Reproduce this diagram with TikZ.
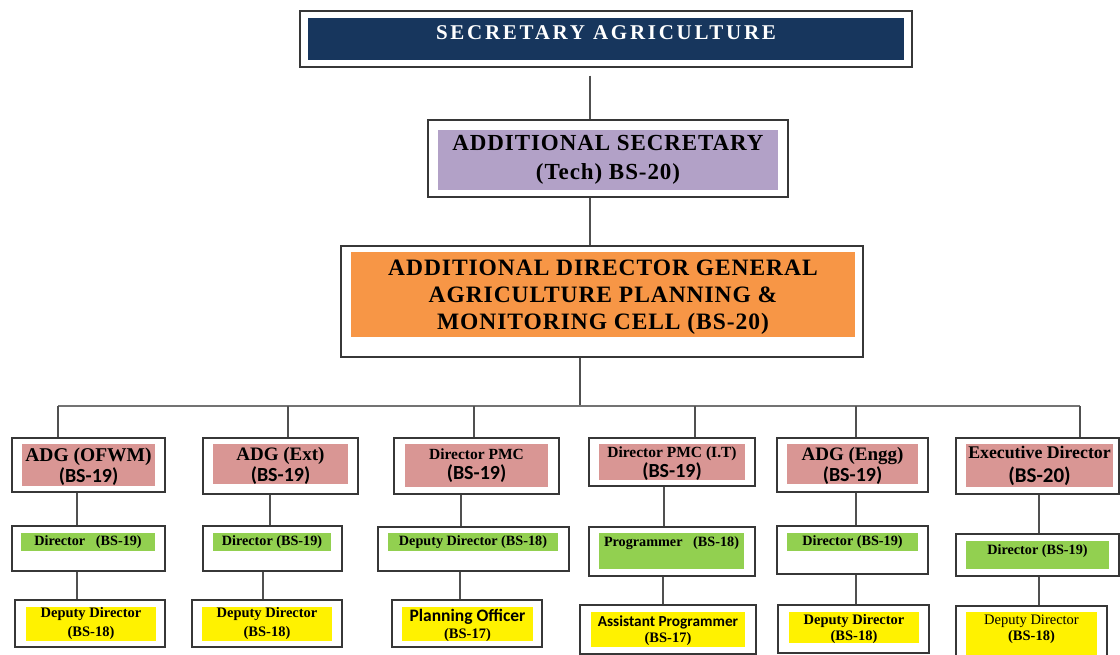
\documentclass[tikz,border=0pt]{standalone}
\usepackage{fontspec}
\setmainfont{Liberation Serif}
\newfontfamily\calfont{Carlito}

\definecolor{navy}{RGB}{23,54,93}
\definecolor{lavender}{RGB}{178,161,199}
\definecolor{deporange}{RGB}{247,150,70}
\definecolor{rose}{RGB}{217,150,148}
\definecolor{leaf}{RGB}{146,208,80}
\definecolor{boxline}{RGB}{55,55,55}
\definecolor{linkgray}{RGB}{80,80,80}

\newcommand*{\bsgrade}[2][20]{{\calfont\fontsize{#1}{21}\selectfont #2}}

\tikzset{
  frame/.style={draw=boxline, line width=1.4pt, fill=white, inner sep=0pt},
  tag/.style={inner sep=0pt, align=center, text=black},
  link/.style={draw=linkgray, line width=1.4pt},
}

\begin{document}
\begin{tikzpicture}[x=1pt, y=-1pt]
\fill[white] (0,0) rectangle (1120,655);
\useasboundingbox (0,0) rectangle (1120,655);

% Secretary
\node[frame, minimum width=612pt, minimum height=56pt] (sec) at (606,39) {};
\node[tag, fill=navy, text=white,
    minimum width=596pt, minimum height=42pt, text depth=13pt,
    font=\fontsize{21}{25}\selectfont\bfseries\addfontfeature{LetterSpace=13}
] (sec-in) at (606,39) {SECRETARY AGRICULTURE};

% Additional secretary
\node[frame, minimum width=360pt, minimum height=77pt] (addsec) at (608,158.5) {};
\node[tag, fill=lavender,
    minimum width=340pt, minimum height=60pt,
    font=\fontsize{23}{29}\selectfont\bfseries\addfontfeature{LetterSpace=4}
] (addsec-in) at (608,160) {ADDITIONAL SECRETARY\\(Tech) BS-20)};

% ADG planning cell
\node[frame, minimum width=522pt, minimum height=111pt] (adg) at (602,301.5) {};
\node[tag, fill=deporange,
    minimum width=504pt, minimum height=85pt, text depth=-2.9pt,
    font=\fontsize{23.5}{27}\selectfont\bfseries\addfontfeature{LetterSpace=4}
] (adg-in) at (603,294.5) {ADDITIONAL DIRECTOR GENERAL\\AGRICULTURE PLANNING \&\\MONITORING CELL (BS-20)};

% First row
\node[frame, minimum width=153pt, minimum height=54pt] (a1) at (88.5,465) {};
\node[tag, fill=rose, minimum width=133pt, minimum height=42pt, text depth=-3.3pt,
    font=\fontsize{19.5}{21}\selectfont\bfseries] (a1-in) at (88.5,465) {ADG (OFWM)\\\bsgrade{(BS-19)}};

\node[frame, minimum width=155pt, minimum height=56pt] (a2) at (280.5,466) {};
\node[tag, fill=rose, minimum width=135pt, minimum height=40pt, text depth=-3.3pt,
    font=\fontsize{19}{21}\selectfont\bfseries] (a2-in) at (280.5,464) {ADG (Ext)\\\bsgrade{(BS-19)}};

\node[frame, minimum width=165pt, minimum height=56pt] (a3) at (476.5,466) {};
\node[tag, fill=rose, minimum width=143pt, minimum height=43pt,
    font=\fontsize{15.5}{20}\selectfont\bfseries] (a3-in) at (476.5,465.5) {Director PMC\\\bsgrade{(BS-19)}};

\node[frame, minimum width=166pt, minimum height=48pt] (a4) at (672,462) {};
\node[tag, fill=rose, minimum width=146pt, minimum height=36pt, text depth=-1.3pt,
    font=\fontsize{15.5}{20.5}\selectfont\bfseries] (a4-in) at (672,462) {Director PMC (I.T)\\\bsgrade{(BS-19)}};

\node[frame, minimum width=151pt, minimum height=54pt] (a5) at (852.5,465) {};
\node[tag, fill=rose, minimum width=131pt, minimum height=40pt, text depth=-3.3pt,
    font=\fontsize{19}{21}\selectfont\bfseries] (a5-in) at (852.5,464) {ADG (Engg)\\\bsgrade{(BS-19)}};

\node[frame, minimum width=163pt, minimum height=56pt] (a6) at (1037.5,466) {};
\node[tag, fill=rose, minimum width=147pt, minimum height=43pt,
    font=\fontsize{17.8}{24}\selectfont\bfseries] (a6-in) at (1039.5,465.5) {Executive Director\\\bsgrade[21]{(BS-20)}};

% Second row
\node[frame, minimum width=153pt, minimum height=45pt] (b1) at (88.5,548.5) {};
\node[tag, fill=leaf, minimum width=134pt, minimum height=18pt,
    font=\fontsize{14.2}{17}\selectfont\bfseries] (b1-in) at (88,542) {Director\ \ \ (BS-19)};

\node[frame, minimum width=139pt, minimum height=45pt] (b2) at (272.5,548.5) {};
\node[tag, fill=leaf, minimum width=118pt, minimum height=18pt,
    font=\fontsize{14.2}{17}\selectfont\bfseries] (b2-in) at (272,542) {Director (BS-19)};

\node[frame, minimum width=191pt, minimum height=44pt] (b3) at (473.5,549) {};
\node[tag, fill=leaf, minimum width=170pt, minimum height=18pt,
    font=\fontsize{14.2}{17}\selectfont\bfseries] (b3-in) at (473,542) {Deputy Director (BS-18)};

\node[frame, minimum width=166pt, minimum height=49pt] (b4) at (672,551.5) {};
\node[tag, fill=leaf, minimum width=145pt, minimum height=36pt, text depth=18pt,
    font=\fontsize{14.2}{17}\selectfont\bfseries] (b4-in) at (671.5,551) {Programmer\ \ \ (BS-18)};

\node[frame, minimum width=151pt, minimum height=48pt] (b5) at (852.5,550) {};
\node[tag, fill=leaf, minimum width=131pt, minimum height=18pt,
    font=\fontsize{14.2}{17}\selectfont\bfseries] (b5-in) at (852.5,542) {Director (BS-19)};

\node[frame, minimum width=163pt, minimum height=42pt] (b6) at (1037.5,555) {};
\node[tag, fill=leaf, minimum width=143pt, minimum height=28pt, text depth=10.5pt,
    font=\fontsize{14.2}{17}\selectfont\bfseries] (b6-in) at (1037.5,555) {Director (BS-19)};

% Third row
\node[frame, minimum width=150pt, minimum height=47pt] (c1) at (90,623.5) {};
\node[tag, fill=yellow, minimum width=130pt, minimum height=34pt,
    font=\fontsize{14.5}{19}\selectfont\bfseries] (c1-in) at (91,624) {Deputy Director\\(BS-18)};

\node[frame, minimum width=150pt, minimum height=47pt] (c2) at (267,623.5) {};
\node[tag, fill=yellow, minimum width=130pt, minimum height=34pt,
    font=\fontsize{14.5}{19}\selectfont\bfseries] (c2-in) at (267,624) {Deputy Director\\(BS-18)};

\node[frame, minimum width=150pt, minimum height=47pt] (c3) at (467,623.5) {};
\node[tag, fill=yellow, minimum width=131pt, minimum height=34pt, text depth=-1.9pt,
    font=\fontsize{14.5}{17}\selectfont\bfseries] (c3-in) at (467.5,624) {\bsgrade[17.5]{Planning Officer}\\(BS-17)};

\node[frame, minimum width=176pt, minimum height=49pt] (c4) at (668,629.5) {};
\node[tag, fill=yellow, minimum width=154pt, minimum height=35pt, text depth=-1.9pt,
    font=\fontsize{14.5}{16}\selectfont\bfseries] (c4-in) at (668,629.5) {\bsgrade[15.3]{Assistant Programmer}\\(BS-17)};

\node[frame, minimum width=151pt, minimum height=48pt] (c5) at (853.5,629) {};
\node[tag, fill=yellow, minimum width=130pt, minimum height=31pt, text depth=-2.9pt,
    font=\fontsize{14.5}{16}\selectfont\bfseries] (c5-in) at (854,627.5) {Deputy Director\\(BS-18)};

\node[frame, minimum width=151pt, minimum height=56pt] (c6) at (1031.5,634) {};
\node[tag, fill=yellow, minimum width=131pt, minimum height=48pt, text depth=16pt,
    font=\fontsize{14.5}{16}\selectfont] (c6-in) at (1031.5,636) {Deputy Director\\\textbf{(BS-18)}};

% Connectors
\coordinate (hub) at (580,406);
\coordinate (busL) at (58,406);
\coordinate (busR) at (1080,406);

\draw[link] ([xshift=-16pt,yshift=-8pt]sec.south) -- ([xshift=-18pt]addsec.north);
\draw[link] ([xshift=-18pt]addsec.south) -- ([xshift=-12pt]adg.north);
\draw[link] (adg.south -| hub) -- (hub);
\draw[link, draw=black!55] (busL) -- (busR);

\foreach \n/\x in {a1/58, a2/288, a3/474, a4/695, a5/856, a6/1080}
    \draw[link] (busL -| \x,0) -- (\n.north -| \x,0);

\foreach \u/\v/\x in {a1/b1/77, b1/c1/77, a2/b2/270, b2/c2/263, a3/b3/461, b3/c3/460,
    a4/b4/664, b4/c4/663, a5/b5/856, b5/c5/856, a6/b6/1039, b6/c6/1039}
    \draw[link] (\u.south -| \x,0) -- (\v.north -| \x,0);

\end{tikzpicture}
\end{document}
